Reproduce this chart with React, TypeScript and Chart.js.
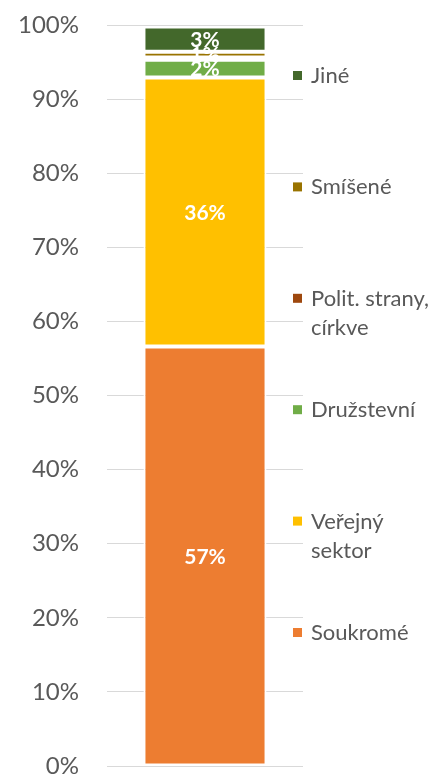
import React, { useEffect, useRef } from "react";
import { Chart, registerables } from "chart.js";

Chart.register(...registerables);

const categories = ["Celkem"];
const seriesNames = ["Soukromé", "Veřejný sektor", "Družstevní", "Polit. strany, církve", "Smíšené", "Jiné"];
const legendLines = [["Soukromé"], ["Veřejný", "sektor"], ["Družstevní"], ["Polit. strany,", "církve"], ["Smíšené"], ["Jiné"]];
const soukrome = [56.6];
const verejny = [36.3];
const druzstevni = [2.4];
const polit = [0.3];
const smisene = [0.8];
const jine = [3.4];
const seriesColors = ["#ED7D31", "#FFC000", "#70AD47", "#9E480E", "#997300", "#43682B"];
const yTicks = [0, 10, 20, 30, 40, 50, 60, 70, 80, 90, 100];

const FONT = "Lato, 'Open Sans', sans-serif";
const TEXT = "#595959";

export default function App() {
  const ref = useRef<HTMLCanvasElement>(null);
  useEffect(() => {
    const canvas = ref.current;
    if (!canvas) return;
    const values = [soukrome, verejny, druzstevni, polit, smisene, jine];

    const labelPlugin = {
      id: "barLabels",
      afterDatasetsDraw(chart: any) {
        const ctx = chart.ctx;
        ctx.save();
        ctx.fillStyle = "#FFFFFF";
        ctx.font = `bold 21px ${FONT}`;
        ctx.textAlign = "center";
        ctx.textBaseline = "middle";
        chart.data.datasets.forEach((ds: any, i: number) => {
          const meta = chart.getDatasetMeta(i);
          meta.data.forEach((bar: any, j: number) => {
            const v = ds.data[j];
            const r = Math.round(v);
            if (r <= 0) return;
            const p = bar.getProps(["x", "y", "base"], true);
            ctx.fillText(r + "%", p.x, (p.y + p.base) / 2 + 1);
          });
        });
        ctx.restore();
      },
    };

    const legendPlugin = {
      id: "sideLegend",
      afterDraw(chart: any) {
        const ctx = chart.ctx;
        const area = chart.chartArea;
        ctx.save();
        ctx.font = `22px ${FONT}`;
        ctx.textBaseline = "middle";
        ctx.textAlign = "left";
        const n = seriesNames.length;
        const firstY = 75;
        const lastY = 632;
        const step = (lastY - firstY) / (n - 1);
        const sqX = area.right - 10;
        const txtX = area.right + 8;
        for (let k = 0; k < n; k++) {
          const idx = n - 1 - k;
          const y = firstY + k * step;
          ctx.fillStyle = seriesColors[idx];
          ctx.fillRect(sqX, y - 4, 9, 9);
          ctx.fillStyle = TEXT;
          legendLines[idx].forEach((line, li) => {
            ctx.fillText(line, txtX, y + 1 + li * 29);
          });
        }
        ctx.restore();
      },
    };

    const chart = new Chart(canvas, {
      type: "bar",
      data: {
        labels: categories,
        datasets: seriesNames.map((name, i) => ({
          label: name,
          data: values[i],
          backgroundColor: seriesColors[i],
          borderColor: "#FFFFFF",
          borderWidth: 2,
          borderSkipped: false,
          categoryPercentage: 1,
          barPercentage: 0.628,
        })),
      },
      options: {
        responsive: false,
        animation: false,
        layout: { padding: { top: 25, right: 133, bottom: 24, left: 0 } },
        plugins: {
          legend: { display: false },
          tooltip: { enabled: false },
        },
        scales: {
          x: {
            stacked: true,
            display: false,
          },
          y: {
            stacked: true,
            min: 0,
            max: 100,
            afterBuildTicks(scale: any) {
              scale.ticks = yTicks.map((v) => ({ value: v }));
            },
            afterFit(scale: any) {
              scale.width = 107;
              scale.paddingTop = 0;
              scale.paddingBottom = 0;
            },
            border: { display: false },
            grid: {
              color: "#D9D9D9",
              lineWidth: 1,
              drawTicks: false,
            },
            ticks: {
              padding: 28,
              color: TEXT,
              font: { family: FONT, size: 24 },
              callback: (v: any) => v + "%",
            },
          },
        },
      },
      plugins: [labelPlugin, legendPlugin],
    });
    return () => chart.destroy();
  }, []);

  return (
    <div style={{ position: "absolute", left: 0, top: 0, width: 436, height: 774, overflow: "hidden", background: "#fff" }}>
      <canvas ref={ref} width={436} height={790} style={{ display: "block", width: 436, height: 790 }} />
    </div>
  );
}
